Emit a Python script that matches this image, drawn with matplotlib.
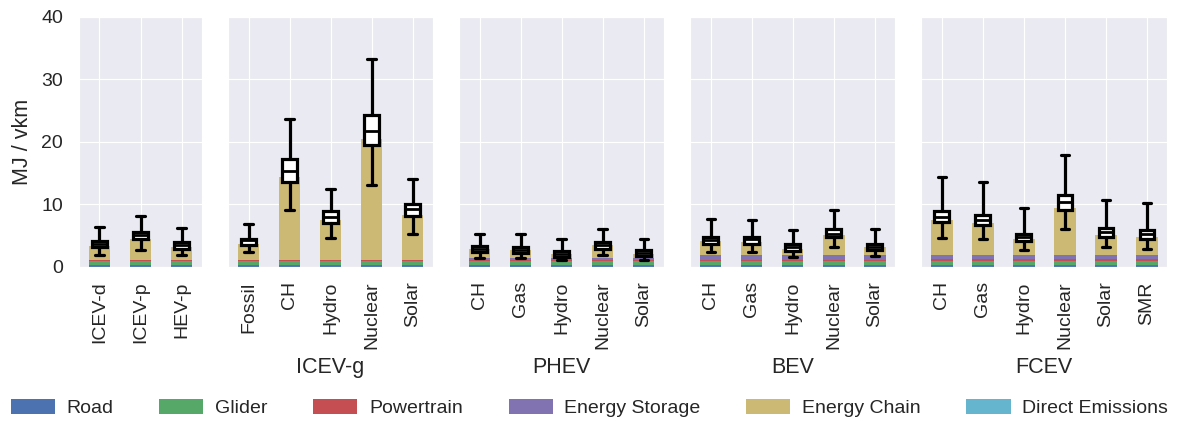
import numpy as np
import matplotlib
matplotlib.use("Agg")
import matplotlib.pyplot as plt
import seaborn as sns
from matplotlib.patches import Patch

sns.set_style("darkgrid")
plt.rcParams['font.family'] = ['Liberation Sans', 'DejaVu Sans']

'''Data read off the reference'''
groups = ['', 'ICEV-g', 'PHEV', 'BEV', 'FCEV']
cats = [['ICEV-d', 'ICEV-p', 'HEV-p'],
        ['Fossil', 'CH', 'Hydro', 'Nuclear', 'Solar'],
        ['CH', 'Gas', 'Hydro', 'Nuclear', 'Solar'],
        ['CH', 'Gas', 'Hydro', 'Nuclear', 'Solar'],
        ['CH', 'Gas', 'Hydro', 'Nuclear', 'Solar', 'SMR']]

# stacked bar components (MJ / vkm)
road = [[0.25] * 3, [0.25] * 5, [0.25] * 5, [0.25] * 5, [0.25] * 6]
glider = [[0.7] * 3, [0.7] * 5, [0.7] * 5, [0.7] * 5, [0.7] * 6]
powertrain = [[0.15] * 3, [0.15] * 5, [0.2] * 5, [0.2] * 5, [0.25] * 6]
storage = [[0.02] * 3, [0.02] * 5, [0.2] * 5, [0.75] * 5, [0.6] * 6]
chain = [[2.18, 3.38, 2.08],
         [2.48, 13.28, 6.38, 19.38, 7.18],
         [1.45, 1.35, 0.65, 2.05, 0.75],
         [2.2, 2.0, 1.0, 3.1, 1.2],
         [5.7, 5.2, 2.6, 7.6, 3.2, 3.0]]
direct = [[0.0] * 3, [0.0] * 5, [0.0] * 5, [0.0] * 5, [0.0] * 6]

# box stats: lower whisker, q1, median, q3, upper whisker
whislo = [[1.9, 2.7, 1.9], [2.3, 9.0, 4.6, 13.0, 5.2],
          [1.4, 1.4, 1.0, 1.9, 1.1], [2.4, 2.3, 1.6, 3.1, 1.7],
          [4.6, 4.4, 2.7, 6.0, 3.1, 2.9]]
q1 = [[3.1, 4.4, 2.9], [3.4, 13.6, 7.0, 19.5, 8.1],
      [2.3, 2.2, 1.6, 2.9, 1.7], [3.6, 3.6, 2.5, 4.7, 2.7],
      [7.1, 6.6, 4.05, 9.1, 4.7, 4.5]]
med = [[3.6, 5.0, 3.4], [4.2, 15.4, 8.0, 21.8, 9.2],
       [2.8, 2.7, 2.1, 3.5, 2.2], [4.3, 4.4, 3.1, 5.3, 3.2],
       [8.0, 7.5, 4.7, 10.3, 5.5, 5.2]]
q3 = [[4.05, 5.5, 3.9], [4.4, 17.2, 8.9, 24.3, 10.0],
      [3.25, 3.2, 2.5, 4.0, 2.6], [4.8, 4.75, 3.6, 6.0, 3.7],
      [8.85, 8.3, 5.3, 11.5, 6.2, 5.9]]
whishi = [[6.4, 8.1, 6.2], [6.8, 23.7, 12.4, 33.3, 14.0],
          [5.2, 5.2, 4.4, 6.0, 4.5], [7.6, 7.5, 5.9, 9.0, 6.1],
          [14.4, 13.6, 9.4, 17.9, 10.6, 10.2]]

comp_names = ['Road', 'Glider', 'Powertrain', 'Energy Storage', 'Energy Chain', 'Direct Emissions']
comp_colors = ['#4C72B0', '#55A868', '#C44E52', '#8172B2', '#CCB974', '#64B5CD']
components = [road, glider, powertrain, storage, chain, direct]

fig, axes = plt.subplots(1, 5, figsize=(11.79, 4.21), dpi=100, sharey=True,
                         gridspec_kw={'width_ratios': [len(c) for c in cats]})
fig.subplots_adjust(left=0.067, right=0.99, top=0.96, bottom=0.3665, wspace=0.132)

for g, ax in enumerate(axes):
    x = np.arange(len(cats[g]))
    bottom = np.zeros(len(x))
    for comp, col in zip(components, comp_colors):
        vals = np.array(comp[g])
        ax.bar(x, vals, 0.53, bottom=bottom, color=col, linewidth=0, zorder=2)
        bottom += vals

    stats = []
    for i in range(len(x)):
        stats.append({'whislo': whislo[g][i], 'q1': q1[g][i], 'med': med[g][i],
                      'q3': q3[g][i], 'whishi': whishi[g][i]})
    ax.bxp(stats, positions=x, widths=0.35, showfliers=False, patch_artist=True,
           boxprops=dict(facecolor='white', edgecolor='black', linewidth=2.3),
           medianprops=dict(color='black', linewidth=2),
           whiskerprops=dict(color='black', linewidth=2.3),
           capprops=dict(color='black', linewidth=2.3),
           capwidths=0.2, manage_ticks=False, zorder=3)

    ax.set_xlim(-0.5, len(x) - 0.5)
    ax.set_ylim(0, 40)
    ax.set_xticks(x)
    ax.set_xticklabels(cats[g], rotation=90, fontsize=14)
    ax.set_xlabel(groups[g], fontsize=15.5, labelpad=6)
    ax.tick_params(axis='x', pad=7)
    ax.tick_params(axis='y', labelsize=14, pad=8)
    ax.set_yticks([0, 10, 20, 30, 40])

axes[0].set_ylabel('MJ / vkm', fontsize=15.5, labelpad=6)

handles = [Patch(facecolor=c, edgecolor='none') for c in comp_colors]
fig.legend(handles, comp_names, loc='center', ncol=6, frameon=False,
           fontsize=14, bbox_to_anchor=(0.5, 0.03), handlelength=2.27,
           handleheight=0.8, columnspacing=2.35, handletextpad=0.6)

fig.savefig('out.png', dpi=100)
